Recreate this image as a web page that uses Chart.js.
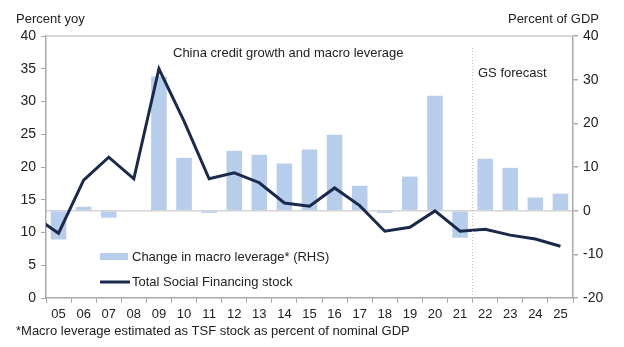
<!DOCTYPE html>
<html>
<head>
<meta charset="utf-8">
<script src="https://cdn.jsdelivr.net/npm/chart.js@4"></script>
<style>
  html, body { margin: 0; padding: 0; background: #fff; }
  #wrap { width: 624px; height: 347px; }
</style>
</head>
<body>
<div id="wrap"><canvas id="myChart"></canvas></div>
<script>
// years, '04' is only there so the line enters from the left edge
const years = ['04', '05', '06', '07', '08', '09', '10', '11', '12', '13', '14', '15', '16', '17', '18', '19', '20', '21', '22', '23', '24', '25']
// change in macro leverage, pp of GDP (RHS)
const leverage = [null, -6.6, 0.9, -1.6, 0, 30.7, 12.1, -0.5, 13.7, 12.8, 10.8, 14.0, 17.4, 5.7, -0.5, 7.8, 26.3, -6.2, 11.9, 9.8, 3.0, 3.9]
// total social financing stock, % yoy (LHS)
const tsf = [12.5, 9.9, 18.0, 21.5, 18.2, 35.0, 27.0, 18.2, 19.1, 17.6, 14.5, 14.0, 16.8, 14.1, 10.2, 10.8, 13.3, 10.2, 10.5, 9.6, 9.0, 7.9]
const leftTicks = [0, 5, 10, 15, 20, 25, 30, 35, 40]
const rightTicks = [-20, -10, 0, 10, 20, 30, 40]

const FONT = 'Liberation Sans, Arial, sans-serif'
const axisGray = '#a9a9a9'

var ctx = document.getElementById('myChart')

const extras = {
  id: 'extras',
  afterDraw(chart) {
    const c = chart.ctx
    const area = chart.chartArea
    const x = chart.scales.x
    c.save()
    // top frame line
    c.strokeStyle = '#c8c8c8'
    c.lineWidth = 1.5
    c.beginPath()
    c.moveTo(area.left, area.top)
    c.lineTo(area.right, area.top)
    c.stroke()
    // forecast divider
    const xd = (x.getPixelForValue(years.indexOf('21')) + x.getPixelForValue(years.indexOf('22'))) / 2
    c.strokeStyle = '#bdbdbd'
    c.lineWidth = 1
    c.setLineDash([1, 2])
    c.beginPath()
    c.moveTo(xd, area.top + 12)
    c.lineTo(xd, area.bottom - 3)
    c.stroke()
    c.setLineDash([])

    c.fillStyle = '#222'
    c.font = '13px ' + FONT
    c.textBaseline = 'middle'
    c.textAlign = 'left'
    c.fillText('China credit growth and macro leverage', 173, 53)
    c.fillText('GS forecast', 478, 73)
    c.fillText('Percent yoy', 16, 19)
    c.fillText('*Macro leverage estimated as TSF stock as percent of nominal GDP', 16, 331)
    c.textAlign = 'right'
    c.fillText('Percent of GDP', 599, 19)

    // legend
    c.textAlign = 'left'
    c.fillStyle = '#b7cdec'
    c.fillRect(100, 253, 28, 7)
    c.fillStyle = '#222'
    c.fillText('Change in macro leverage* (RHS)', 132, 257)
    c.strokeStyle = '#1b2a4c'
    c.lineWidth = 3
    c.beginPath()
    c.moveTo(100, 282)
    c.lineTo(130, 282)
    c.stroke()
    c.fillText('Total Social Financing stock', 132, 282)
    c.restore()
  }
}

new Chart(ctx, {
  type: 'bar',
  data: {
    labels: years,
    datasets: [{
      type: 'line',
      label: 'Total Social Financing stock',
      data: tsf,
      yAxisID: 'y',
      borderColor: '#1b2a4c',
      borderWidth: 3,
      pointRadius: 0,
      tension: 0,
      order: 0
    }, {
      label: 'Change in macro leverage* (RHS)',
      data: leverage,
      yAxisID: 'y1',
      backgroundColor: '#b7cdec',
      barPercentage: 0.62,
      categoryPercentage: 1,
      order: 1
    }]
  },
  plugins: [extras],
  options: {
    responsive: true,
    maintainAspectRatio: false,
    animation: false,
    layout: { padding: { top: 36, left: 0, right: 0, bottom: 0 } },
    plugins: {
      legend: { display: false },
      tooltip: { enabled: false }
    },
    scales: {
      x: {
        min: '05',
        offset: true,
        grid: { display: true, drawOnChartArea: false, offset: true, tickLength: 5, color: axisGray },
        border: { color: axisGray, width: 1.5 },
        ticks: { color: '#222', font: { family: FONT, size: 13 }, padding: 4, maxRotation: 0, autoSkip: false },
        afterFit(scale) { scale.height = 49 }
      },
      y: {
        position: 'left',
        min: 0,
        max: 40,
        afterBuildTicks(scale) { scale.ticks = leftTicks.map(v => ({ value: v })) },
        grid: { drawOnChartArea: false, tickLength: 5, color: axisGray },
        border: { color: axisGray, width: 1.5 },
        ticks: { color: '#222', font: { family: FONT, size: 14 }, padding: 5 },
        afterFit(scale) { scale.width = 46 }
      },
      y1: {
        position: 'right',
        min: -20,
        max: 40,
        afterBuildTicks(scale) { scale.ticks = rightTicks.map(v => ({ value: v })) },
        grid: {
          drawOnChartArea: true,
          tickLength: 5,
          color: c => c.tick && c.tick.value === 0 ? '#d4d4d4' : 'rgba(0,0,0,0)',
          tickColor: axisGray,
          lineWidth: 1.5
        },
        border: { color: axisGray, width: 1.5 },
        ticks: { color: '#222', font: { family: FONT, size: 14 }, padding: 5 },
        afterFit(scale) { scale.width = 51 }
      }
    }
  }
})
</script>
</body>
</html>
